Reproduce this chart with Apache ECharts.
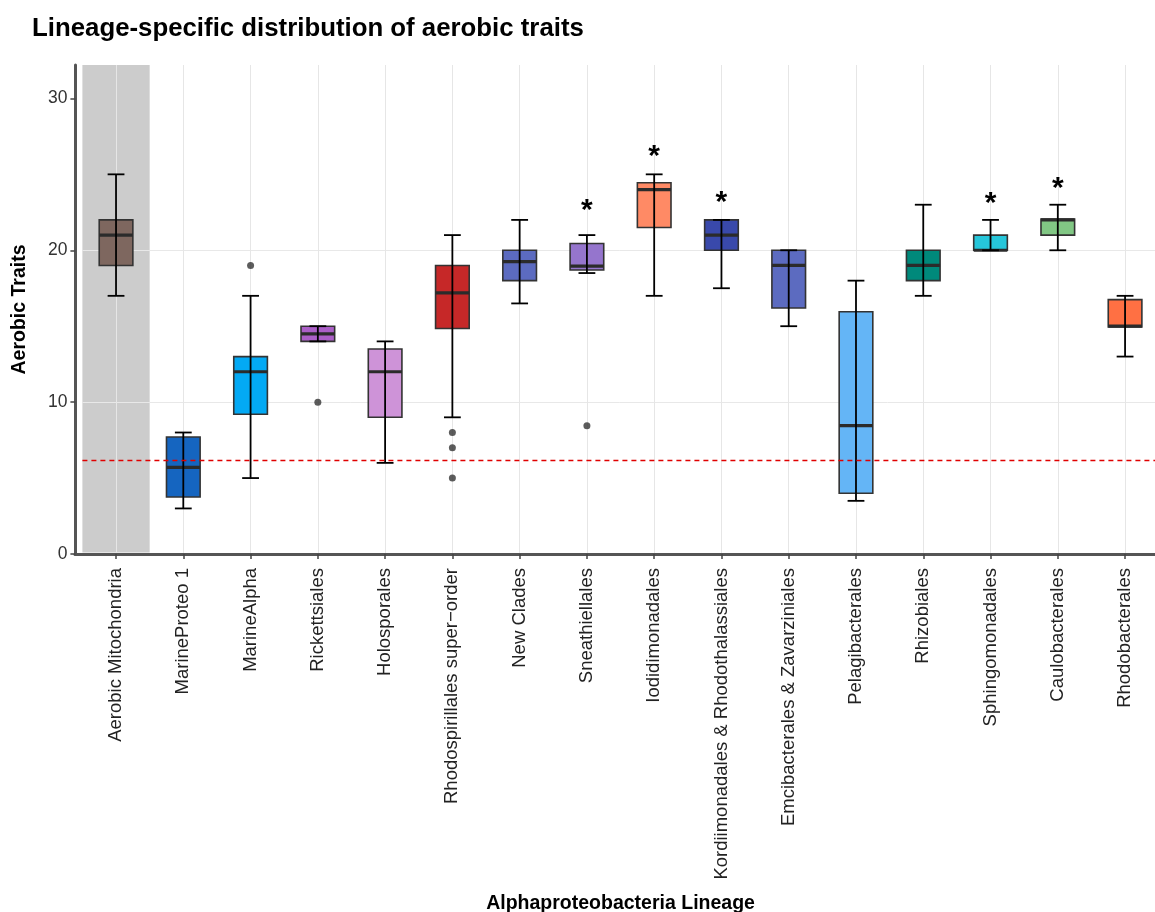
<!DOCTYPE html>
<html>
<head>
<meta charset="utf-8">
<script src="https://cdn.jsdelivr.net/npm/echarts@6/dist/echarts.min.js"></script>
<style>
  html, body { margin: 0; padding: 0; background: #fff; }
  #chart { width: 1155px; height: 912px; }
</style>
</head>
<body>
<div id="chart"></div>
<script>
// Lineages along the x axis
const lineages = [
  'Aerobic Mitochondria', 'MarineProteo 1', 'MarineAlpha', 'Rickettsiales', 'Holosporales',
  'Rhodospirillales super\u2212order', 'New Clades', 'Sneathiellales', 'Iodidimonadales',
  'Kordiimonadales & Rhodothalassiales', 'Emcibacterales & Zavarziniales', 'Pelagibacterales',
  'Rhizobiales', 'Sphingomonadales', 'Caulobacterales', 'Rhodobacterales'
];

// Box statistics per lineage (aerobic trait counts)
const whiskerLow  = [17, 3,    5,   14,   6,    9,     16.5,  18.5,  17,    17.5, 15,   3.5,   17, 20, 20,    13];
const lowerQ      = [19, 3.75, 9.2, 14,   9,    14.85, 18,    18.7,  21.5,  20,   16.2, 4,     18, 20, 21,    14.95];
const medians     = [21, 5.7,  12,  14.5, 12,   17.2,  19.25, 18.95, 24,    21,   19,   8.45,  19, 20, 22,    15];
const upperQ      = [22, 7.7,  13,  15,   13.5, 19,    20,    20.45, 24.45, 22,   20,   15.95, 20, 21, 22.05, 16.75];
const whiskerHigh = [25, 8,    17,  15,   14,   21,    22,    21,    25,    22,   20,   18,    23, 22, 23,    17];

// Points beyond the whiskers: [lineage index, value]
const outliers = [[2, 19], [3, 10], [5, 8], [5, 7], [5, 5], [7, 8.45]];

// Height (in trait units) of the significance asterisks; null where none
const starLevel = [null, null, null, null, null, null, null, 22.6, 26.15, 23.1, null, null, null, 23.05, 24.05, null];

// Reference level drawn as a dashed red line
const referenceLevel = 6.2;

// Y tick labels
const yTicks = [0, 10, 20, 30];

const fillColors = [
  '#7e675f', '#1565c0', '#03a9f4', '#ab5fc7', '#ce93d8', '#c62828', '#5c6bc0', '#9575cd',
  '#ff8a65', '#3949ab', '#5c6bc0', '#64b5f6', '#00897b', '#26c6da', '#81c784', '#ff7043'
];

const boxData = lineages.map((name, i) => [i, whiskerLow[i], lowerQ[i], medians[i], upperQ[i], whiskerHigh[i]]);
const starData = starLevel.map((v, i) => v == null ? null : [i, v]).filter(Boolean);

const chart = echarts.init(document.getElementById('chart'), null, { renderer: 'canvas' });

const font = 'Liberation Sans, Arial, Helvetica, sans-serif';

const option = {
  animation: false,
  backgroundColor: '#ffffff',
  title: {
    text: 'Lineage-specific distribution of aerobic traits',
    left: 27,
    top: 11,
    textStyle: { fontFamily: font, fontSize: 25.8, fontWeight: 'bold', color: '#000' }
  },
  grid: [
    { left: 82.4, top: 65, width: 1076.3, bottom: 358, containLabel: false, outerBoundsMode: 'none' },
    { left: 75, top: 65, width: 1090, bottom: 358, containLabel: false, outerBoundsMode: 'none' }
  ],
  xAxis: [
    {
      type: 'category',
      gridIndex: 0,
      data: lineages,
      boundaryGap: true,
      name: 'Alphaproteobacteria Lineage',
      nameLocation: 'middle',
      nameGap: 340,
      nameTextStyle: { fontFamily: font, fontSize: 19.5, fontWeight: 'bold', color: '#000' },
      axisLine: { show: false },
      axisTick: { show: true, alignWithLabel: true, length: 5, lineStyle: { color: '#444', width: 1.5 } },
      axisLabel: {
        rotate: 90, interval: 0, margin: 14,
        fontFamily: font, fontSize: 18.5, color: '#222'
      },
      splitLine: { show: true, alignWithLabel: true, lineStyle: { color: '#e6e6e6', width: 1 } }
    },
    {
      type: 'value',
      gridIndex: 1,
      min: 0, max: 1,
      axisLine: { show: true, lineStyle: { color: '#555', width: 3 } },
      axisTick: { show: false },
      axisLabel: { show: false },
      splitLine: { show: false }
    }
  ],
  yAxis: [
    {
      type: 'value',
      gridIndex: 0,
      min: 0,
      max: 32.2,
      interval: 5,
      offset: 7,
      name: 'Aerobic Traits',
      nameLocation: 'middle',
      nameGap: 46,
      nameTextStyle: { fontFamily: font, fontSize: 19.5, fontWeight: 'bold', color: '#000' },
      axisLine: { show: true, lineStyle: { color: '#555', width: 3 } },
      axisTick: { show: true, customValues: yTicks, length: 5, lineStyle: { color: '#444', width: 1.5 } },
      axisLabel: {
        customValues: yTicks,
        margin: 8,
        fontFamily: font, fontSize: 17.5, color: '#333'
      },
      splitLine: { show: true, showMaxLine: false, lineStyle: { color: '#e8e8e8', width: 1 } }
    },
    {
      type: 'value',
      gridIndex: 1,
      show: false
    }
  ],
  series: [
    {
      // shaded band behind the mitochondria reference group
      type: 'custom',
      xAxisIndex: 0, yAxisIndex: 0,
      z: -1,
      silent: true,
      data: [[0]],
      encode: { x: 0 },
      renderItem(params, api) {
        const cs = params.coordSys;
        const bw = api.size([1, 0])[0];
        const cx = api.coord([api.value(0), 0])[0];
        return {
          type: 'rect',
          shape: { x: cx - bw / 2, y: cs.y, width: bw, height: cs.height - 1.5 },
          style: { fill: '#cccccc' }
        };
      }
    },
    {
      // boxes, medians and whiskers
      type: 'custom',
      xAxisIndex: 0, yAxisIndex: 0,
      data: boxData,
      encode: { x: 0, y: [1, 2, 3, 4, 5] },
      renderItem(params, api) {
        const i = api.value(0);
        const bw = api.size([1, 0])[0];
        const boxW = bw * 0.5;
        const capW = boxW * 0.5;
        const pLo = api.coord([i, api.value(1)]);
        const pQ1 = api.coord([i, api.value(2)]);
        const pMed = api.coord([i, api.value(3)]);
        const pQ3 = api.coord([i, api.value(4)]);
        const pHi = api.coord([i, api.value(5)]);
        const cx = pMed[0];
        return {
          type: 'group',
          children: [
            {
              type: 'rect',
              shape: { x: cx - boxW / 2, y: pQ3[1], width: boxW, height: pQ1[1] - pQ3[1] },
              style: { fill: fillColors[params.dataIndex], stroke: '#333', lineWidth: 1.6 }
            },
            {
              type: 'line',
              shape: { x1: cx - boxW / 2, y1: pMed[1], x2: cx + boxW / 2, y2: pMed[1] },
              style: { stroke: '#2b2b2b', lineWidth: 3.2 }
            },
            {
              type: 'line',
              shape: { x1: cx, y1: pLo[1], x2: cx, y2: pHi[1] },
              style: { stroke: '#000', lineWidth: 1.8 }
            },
            {
              type: 'line',
              shape: { x1: cx - capW / 2, y1: pLo[1], x2: cx + capW / 2, y2: pLo[1] },
              style: { stroke: '#000', lineWidth: 1.8 }
            },
            {
              type: 'line',
              shape: { x1: cx - capW / 2, y1: pHi[1], x2: cx + capW / 2, y2: pHi[1] },
              style: { stroke: '#000', lineWidth: 1.8 }
            }
          ]
        };
      }
    },
    {
      // outlying observations
      type: 'scatter',
      xAxisIndex: 0, yAxisIndex: 0,
      data: outliers,
      symbol: 'circle',
      symbolSize: 7,
      itemStyle: { color: '#333' },
      markLine: {
        silent: true,
        symbol: 'none',
        label: { show: false },
        lineStyle: { color: '#e00000', type: [5, 4], width: 1.3 },
        data: [{ yAxis: referenceLevel }]
      }
    },
    {
      // significance markers
      type: 'custom',
      xAxisIndex: 0, yAxisIndex: 0,
      data: starData,
      encode: { x: 0, y: 1 },
      renderItem(params, api) {
        const p = api.coord([api.value(0), api.value(1)]);
        return {
          type: 'text',
          x: p[0], y: p[1],
          style: {
            text: '*',
            fontFamily: font,
            fontSize: 30,
            fontWeight: 'bold',
            fill: '#000',
            align: 'center',
            verticalAlign: 'middle'
          }
        };
      }
    }
  ]
};

chart.setOption(option);
</script>
</body>
</html>
